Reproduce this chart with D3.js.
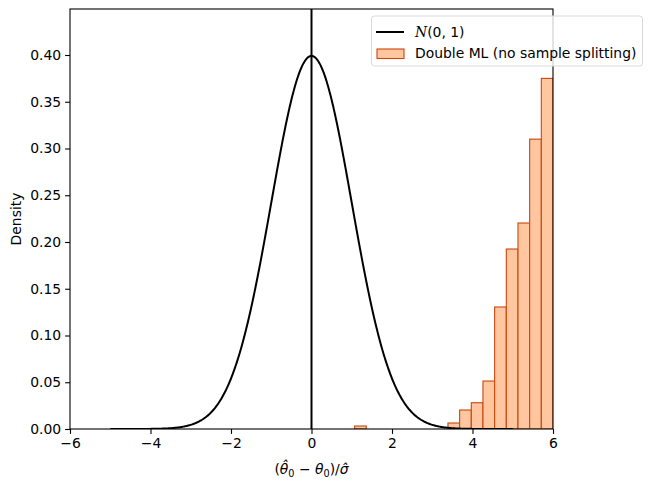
<!DOCTYPE html>
<html><head><meta charset="utf-8">
<script src="https://cdn.jsdelivr.net/npm/d3@7"></script>
<style>body{margin:0;background:#fff}svg{display:block}text{font-family:"DejaVu Sans",sans-serif}</style>
</head><body>
<svg id="c" width="652" height="491"></svg>
<script>
const binStart = 1.07;
const binWidth = 0.29;
const binHeights = [0.0032, 0, 0, 0, 0, 0, 0, 0, 0.0064, 0.0203, 0.0281, 0.0513, 0.1305, 0.1925, 0.2203, 0.310, 0.375];
const xTicks = [-6, -4, -2, 0, 2, 4, 6];
const yTicks = [0, 0.05, 0.10, 0.15, 0.20, 0.25, 0.30, 0.35, 0.40];
const normalRange = [-5, 5];
const legendLabels = ["(0, 1)", "Double ML (no sample splitting)"];

const svg = d3.select("#c");
const L = 70, R = 553, T = 9, B = 429;
const x = d3.scaleLinear().domain([-6, 6]).range([L, R]);
const y = d3.scaleLinear().domain([0, 0.4492]).range([B, T]);

svg.append("defs").append("clipPath").attr("id", "clip")
  .append("rect").attr("x", L).attr("y", T).attr("width", R - L).attr("height", B - T);

const g = svg.append("g").attr("clip-path", "url(#clip)");

const bins = binHeights.map((h, i) => ({x0: binStart + i * binWidth, x1: binStart + (i + 1) * binWidth, h}));
g.selectAll("rect.bar").data(bins).join("rect").attr("class", "bar")
  .attr("x", d => x(d.x0)).attr("width", d => x(d.x1) - x(d.x0))
  .attr("y", d => y(d.h)).attr("height", d => y(0) - y(d.h))
  .attr("fill", "#ffc6a0").attr("stroke", "#c9470c").attr("stroke-width", 1.1);

const pdf = t => Math.exp(-t * t / 2) / Math.sqrt(2 * Math.PI);
const pts = d3.range(0, 501).map(i => normalRange[0] + (normalRange[1] - normalRange[0]) * i / 500);
g.append("path").datum(pts)
  .attr("d", d3.line().x(d => x(d)).y(d => y(pdf(d))))
  .attr("fill", "none").attr("stroke", "#000").attr("stroke-width", 2);

g.append("line").attr("x1", x(0)).attr("x2", x(0)).attr("y1", T).attr("y2", B)
  .attr("stroke", "#000").attr("stroke-width", 2);

// axes
const xa = svg.append("g").attr("transform", `translate(0,${B})`)
  .call(d3.axisBottom(x).tickValues(xTicks).tickSize(4.9).tickPadding(4).tickFormat(d => d < 0 ? "\u2212" + Math.abs(d) : d));
const ya = svg.append("g").attr("transform", `translate(${L},0)`)
  .call(d3.axisLeft(y).tickValues(yTicks).tickSize(4.9).tickPadding(4).tickFormat(d3.format(".2f")));
[xa, ya].forEach(a => {
  a.select(".domain").remove();
  a.selectAll("text").attr("font-size", 13.9).attr("fill", "#000").attr("font-family", "DejaVu Sans");
  a.selectAll("line").attr("stroke", "#000").attr("stroke-width", 1.1);
});
svg.append("rect").attr("x", L).attr("y", T).attr("width", R - L).attr("height", B - T)
  .attr("fill", "none").attr("stroke", "#000").attr("stroke-width", 1.1);

// labels
svg.append("text").attr("transform", `translate(21,${(T + B) / 2}) rotate(-90)`)
  .attr("text-anchor", "middle").attr("font-size", 13.9).text("Density");

const xl = svg.append("text").attr("x", x(0)).attr("y", 474).attr("text-anchor", "middle").attr("font-size", 13.9);
xl.append("tspan").text("(");
xl.append("tspan").attr("font-style", "italic").text("\u03B8\u0302");
xl.append("tspan").attr("font-size", 9.7).attr("dy", 3).text("0");
xl.append("tspan").attr("dy", -3).text(" \u2212 ");
xl.append("tspan").attr("font-style", "italic").text("\u03B8");
xl.append("tspan").attr("font-size", 9.7).attr("dy", 3).text("0");
xl.append("tspan").attr("dy", -3).text(")/");
xl.append("tspan").attr("font-style", "italic").text("\u03C3\u0302");

// legend
const lg = svg.append("g");
lg.append("rect").attr("x", 371.5).attr("y", 16).attr("width", 271).attr("height", 50).attr("rx", 3)
  .attr("fill", "#fff").attr("fill-opacity", 0.8).attr("stroke", "#d9d9d9").attr("stroke-width", 1);
lg.append("line").attr("x1", 376).attr("x2", 404).attr("y1", 32).attr("y2", 32).attr("stroke", "#000").attr("stroke-width", 2);
lg.append("rect").attr("x", 377).attr("y", 49).attr("width", 27).attr("height", 9.5)
  .attr("fill", "#ffc6a0").attr("stroke", "#c9470c").attr("stroke-width", 1.1);
const t1 = lg.append("text").attr("x", 415).attr("y", 37).attr("font-size", 13.9);
t1.append("tspan").attr("font-family", "DejaVu Serif").attr("font-style", "italic").text("N");
t1.append("tspan").text(legendLabels[0]);
lg.append("text").attr("x", 415).attr("y", 58).attr("font-size", 13.9).text(legendLabels[1]);
</script>
</body></html>
